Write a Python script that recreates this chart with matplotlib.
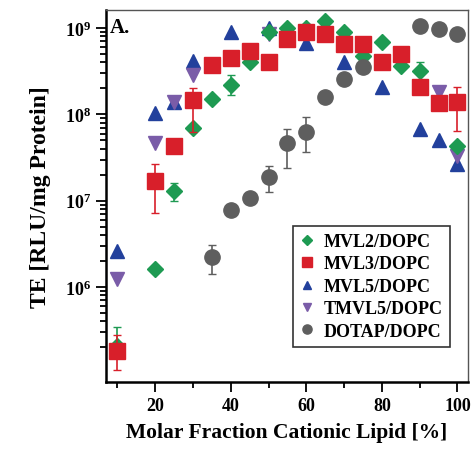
import numpy as np
import matplotlib
matplotlib.use("Agg")
import matplotlib.pyplot as plt
from matplotlib.ticker import FixedLocator, NullFormatter

plt.rcParams['font.family'] = ['Liberation Serif', 'DejaVu Serif']
plt.rcParams['font.weight'] = 'bold'
plt.rcParams['mathtext.fontset'] = 'custom'
plt.rcParams['mathtext.rm'] = 'Liberation Serif:bold'
plt.rcParams['mathtext.bf'] = 'Liberation Serif:bold'
plt.rcParams['mathtext.it'] = 'Liberation Serif:bold:italic'

# MVL2/DOPC (green diamonds)
x_mvl2 = [10, 20, 25, 30, 35, 40, 45, 50, 55, 60, 65, 70, 75, 80, 85, 90, 100]
y_mvl2 = [2.1e5, 1.6e6, 1.3e7, 7e7, 1.5e8, 2.2e8, 4.1e8, 9e8, 1.0e9, 1.0e9,
          1.2e9, 9e8, 4.7e8, 6.9e8, 3.6e8, 3.2e8, 4.3e7]
lo_mvl2 = [0, 0, 1.0e7, 0, 0, 1.7e8, 0, 0, 0, 0, 0, 0, 0, 0, 0, 0, 0]
hi_mvl2 = [3.4e5, 0, 1.6e7, 0, 0, 2.9e8, 0, 0, 0, 0, 0, 0, 0, 0, 0, 4.0e8, 0]

# MVL3/DOPC (red squares)
x_mvl3 = [10, 20, 25, 30, 35, 40, 45, 50, 55, 60, 65, 70, 75, 80, 85, 90, 95, 100]
y_mvl3 = [1.8e5, 1.7e7, 4.3e7, 1.45e8, 3.7e8, 4.5e8, 5.4e8, 4.1e8, 7.4e8, 9e8,
          8.6e8, 6.5e8, 6.5e8, 4e8, 5e8, 2.1e8, 1.35e8, 1.4e8]
lo_mvl3 = [1.1e5, 7.2e6, 3.6e7, 6.2e7, 0, 0, 0, 0, 0, 0, 0, 0, 0, 0, 0, 0, 0, 6.4e7]
hi_mvl3 = [2.8e5, 2.7e7, 5.0e7, 2.0e8, 0, 0, 0, 0, 0, 0, 0, 0, 0, 0, 0, 0, 0, 2.1e8]

# MVL5/DOPC (blue triangles)
x_mvl5 = [10, 20, 25, 30, 40, 50, 60, 70, 80, 90, 95, 100]
y_mvl5 = [2.6e6, 1.05e8, 1.4e8, 4.2e8, 9e8, 1.0e9, 6.7e8, 4.1e8, 2.1e8, 6.8e7, 5.1e7, 2.7e7]

# TMVL5/DOPC (purple down triangles)
x_tmvl5 = [10, 20, 25, 30, 50, 95, 100]
y_tmvl5 = [1.24e6, 4.7e7, 1.4e8, 2.9e8, 8.5e8, 1.8e8, 3.3e7]

# DOTAP/DOPC (gray circles)
x_dotap = [35, 40, 45, 50, 55, 60, 65, 70, 75, 90, 95, 100]
y_dotap = [2.2e6, 7.8e6, 1.07e7, 1.9e7, 4.7e7, 6.3e7, 1.6e8, 2.6e8, 3.5e8,
           1.05e9, 9.8e8, 8.5e8]
lo_dotap = [1.4e6, 0, 0, 1.26e7, 2.4e7, 3.7e7, 0, 0, 0, 0, 0, 0]
hi_dotap = [3.1e6, 0, 0, 2.5e7, 6.8e7, 9.3e7, 0, 0, 0, 0, 0, 0]


def yerr(y, lo, hi):
    y = np.array(y)
    lo = np.array(lo, dtype=float)
    hi = np.array(hi, dtype=float)
    low = np.where(lo > 0, y - lo, 0)
    up = np.where(hi > 0, hi - y, 0)
    return [low, up]


fig = plt.figure(figsize=(4.75, 4.56), dpi=100)
ax = fig.add_axes([0.2232, 0.1601, 0.7621, 0.8158])

green = '#1e9a52'
red = '#d81f2a'
blue = '#22409c'
purple = '#7a5ca8'
gray = '#5e5e5e'

h_mvl5, = ax.plot(x_mvl5, y_mvl5, '^', color=blue, ms=10, mec=blue, zorder=3,
                  label='MVL5/DOPC')
h_tmvl5, = ax.plot(x_tmvl5, y_tmvl5, 'v', color=purple, ms=10, mec=purple, zorder=4,
                   label='TMVL5/DOPC')
ax.errorbar(x_mvl2, y_mvl2, yerr=yerr(y_mvl2, lo_mvl2, hi_mvl2), fmt='none',
            ecolor=green, elinewidth=1.2, capsize=3, zorder=5)
h_mvl2, = ax.plot(x_mvl2, y_mvl2, 'D', color=green, ms=8, mec=green, zorder=5,
                  label='MVL2/DOPC')
ax.errorbar(x_mvl3, y_mvl3, yerr=yerr(y_mvl3, lo_mvl3, hi_mvl3), fmt='none',
            ecolor=red, elinewidth=1.2, capsize=3, zorder=6)
h_mvl3, = ax.plot(x_mvl3, y_mvl3, 's', color=red, ms=11, mec=red, zorder=6,
                  label='MVL3/DOPC')
ax.errorbar(x_dotap, y_dotap, yerr=yerr(y_dotap, lo_dotap, hi_dotap), fmt='none',
            ecolor=gray, elinewidth=1.2, capsize=3, zorder=7)
h_dotap, = ax.plot(x_dotap, y_dotap, 'o', color=gray, ms=11, mec=gray, zorder=7,
                   label='DOTAP/DOPC')

ax.set_yscale('log')
ax.set_xlim(7.0, 102.8)
ax.set_ylim(10 ** 4.9, 10 ** 9.21)

ax.xaxis.set_major_locator(FixedLocator([20, 40, 60, 80, 100]))
ax.xaxis.set_minor_locator(FixedLocator([10, 30, 50, 70, 90]))
ax.yaxis.set_major_locator(FixedLocator([1e6, 1e7, 1e8, 1e9]))
minors = [m * 10 ** e for e in range(5, 9) for m in range(2, 10)]
ax.yaxis.set_minor_locator(FixedLocator(minors))
ax.yaxis.set_minor_formatter(NullFormatter())
ax.set_yticklabels([r'$\mathbf{10^{6}}$', r'$\mathbf{10^{7}}$',
                    r'$\mathbf{10^{8}}$', r'$\mathbf{10^{9}}$'])

ax.tick_params(which='both', direction='out', top=False, right=False,
               labelsize=13, width=1.3)
ax.tick_params(which='major', length=7)
ax.tick_params(which='minor', length=4)

for s in ['left', 'bottom']:
    ax.spines[s].set_linewidth(1.8)
for s in ['top', 'right']:
    ax.spines[s].set_linewidth(1.0)
    ax.spines[s].set_color('#555555')

ax.set_xlabel('Molar Fraction Cationic Lipid [%]', fontsize=15.5, fontweight='bold',
              labelpad=6)
ax.set_ylabel('TE [RLU/mg Protein]', fontsize=17, fontweight='bold', labelpad=10)

ax.text(0.01, 0.955, 'A.', transform=ax.transAxes, fontsize=15,
        fontweight='bold', va='center', ha='left')

leg = ax.legend(handles=[h_mvl2, h_mvl3, h_mvl5, h_tmvl5, h_dotap],
                loc='lower right', bbox_to_anchor=(0.975, 0.07),
                fontsize=13, frameon=True, fancybox=False, markerscale=0.6,
                handlelength=0.8, handletextpad=0.5, borderpad=0.4,
                labelspacing=0.3)
leg.get_frame().set_edgecolor('black')
leg.get_frame().set_linewidth(1.2)

fig.savefig('out.png', dpi=100)
